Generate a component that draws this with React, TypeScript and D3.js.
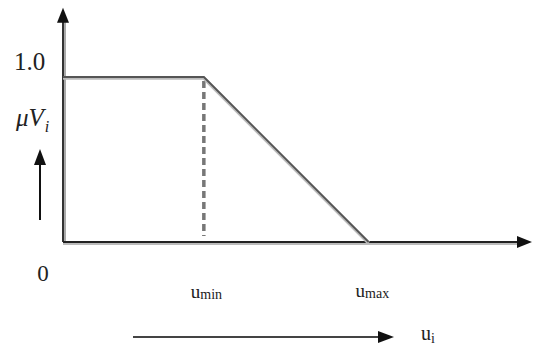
import React from "react";
import * as d3 from "d3";

const uPoints = [0, 1, 2.17];
const muPoints = [1, 1, 0];
const tickLabels = ["0", "umin", "umax"];
const yLabel = "1.0";

export default function App() {
  const W = 535, H = 350;
  const x = d3.scaleLinear().domain([0, 3.33]).range([63, 532]);
  const y = d3.scaleLinear().domain([0, 1]).range([242, 77]);
  const data = uPoints.map((u, i) => ({ u, mu: muPoints[i] }));
  const line = d3.line<{ u: number; mu: number }>().x(d => x(d.u)).y(d => y(d.mu));
  const x0 = x(0), y0 = y(0);
  const axisTop = y(1.42);
  const axisRight = x(3.33);
  const serif = "'Liberation Serif', 'Times New Roman', serif";
  return (
    <svg width={W} height={H} style={{ position: "absolute", left: 0, top: 0, background: "#fff" }}>
      <line x1={x0 + 2} y1={y0} x2={x0 + 2} y2={axisTop + 12} stroke="#aaa" strokeWidth={2} />
      <line x1={x0} y1={y0 + 2} x2={axisRight - 12} y2={y0 + 2} stroke="#bbb" strokeWidth={2} />
      <line x1={x0} y1={y0} x2={x0} y2={axisTop + 10} stroke="#333" strokeWidth={2} />
      <line x1={x0} y1={y0} x2={axisRight - 10} y2={y0} stroke="#222" strokeWidth={2} />
      <path d={`M${x0},${axisTop} L${x0 - 6},${axisTop + 15} L${x0 + 6},${axisTop + 15} Z`} fill="#111" />
      <path d={`M${axisRight},${y0} L${axisRight - 15},${y0 - 6} L${axisRight - 15},${y0 + 6} Z`} fill="#111" />
      <line x1={x(uPoints[1])} y1={y(1) + 4} x2={x(uPoints[1])} y2={y0 - 6} stroke="#777" strokeWidth={3.5} strokeDasharray="7,4" />
      <path d={line(data) || ""} fill="none" stroke="#bbb" strokeWidth={3.5} transform="translate(0,1)" />
      <path d={line(data) || ""} fill="none" stroke="#555" strokeWidth={1.8} />
      <text x={14} y={70} fontFamily={serif} fontSize={25} fill="#222">{yLabel}</text>
      <text x={16} y={126} fontFamily={serif} fontSize={25} fontStyle="italic" fill="#222">
        μV<tspan fontSize={16} dy={6} dx={1}>i</tspan>
      </text>
      <line x1={40} y1={220} x2={40} y2={162} stroke="#111" strokeWidth={2} />
      <path d="M40,149 L34,165 L46,165 Z" fill="#111" />
      <text x={x0 - 20} y={281} fontFamily={serif} fontSize={23} textAnchor="middle" fill="#222">{tickLabels[0]}</text>
      <text x={x(uPoints[1]) - 13} y={298} fontFamily={serif} fontSize={19} fill="#222">
        u<tspan fontSize={14} dy={1}>min</tspan>
      </text>
      <text x={x(uPoints[2]) - 13} y={297} fontFamily={serif} fontSize={19} fill="#222">
        u<tspan fontSize={14} dy={1}>max</tspan>
      </text>
      <line x1={133} y1={337} x2={381} y2={337} stroke="#444" strokeWidth={2} />
      <path d="M394,337 L378,331 L378,343 Z" fill="#111" />
      <text x={421} y={340} fontFamily={serif} fontSize={20} fill="#222">
        u<tspan fontSize={14} dy={3}>i</tspan>
      </text>
    </svg>
  );
}
